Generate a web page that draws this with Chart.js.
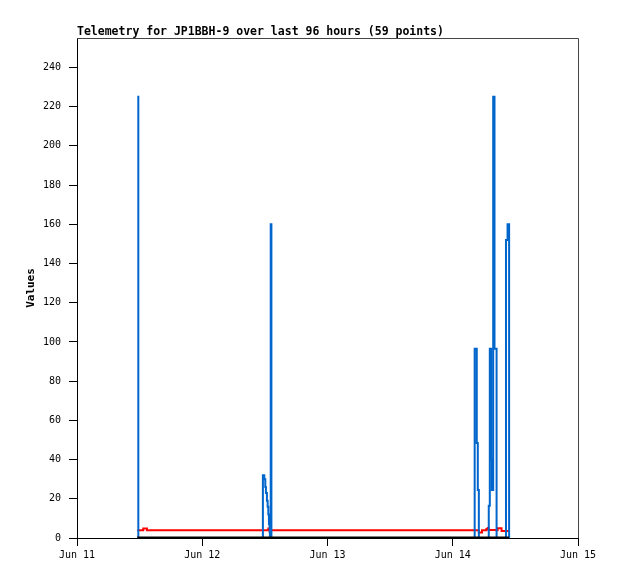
<!DOCTYPE html>
<html>
<head>
<meta charset="utf-8">
<script src="https://cdn.jsdelivr.net/npm/chart.js@4"></script>
<style>
  html, body { margin: 0; padding: 0; background: #fff; }
  canvas { display: block; }
</style>
</head>
<body>
<canvas id="telemetry" width="618" height="579"></canvas>
<script>
const chartTitle = 'Telemetry for JP1BBH-9 over last 96 hours (59 points)';
const yAxisTitle = 'Values';

// hours since Jun 11 00:00
const hours = [11.55, 11.75, 12.7, 13.4,
  35.62, 35.89, 36.08, 36.2, 36.39, 36.53, 36.66, 36.78, 36.91, 36.96, 37.12, 37.25,
  76.2, 76.6, 76.8, 77.0, 77.6, 78.45, 78.7, 78.9, 79.1, 79.35, 79.5, 79.75, 80.0, 80.4,
  80.6, 81.35, 82.2, 82.5, 82.8];
const blueValues = [225, 0, 0, 0,
  32, 30, 26, 23, 19, 16, 12, 7, 3, 0, 160, 0,
  96.5, 48.5, 24.5, 0, 0, 0, 0, 16.5, 96.5, 40, 24.5, 225, 96.5, 0,
  0, 0, 152, 160, 0];
const redValues = [4, 4, 4.8, 4,
  4, 4, 4, 4, 4, 4, 4.8, 4.8, 4.8, 4, 4, 4,
  4, 4, 4, 2.8, 4, 4.6, 5.1, 4.1, 4.1, 4.1, 4.1, 4.1, 4.1, 4,
  5, 3.6, 3.6, 3.6, 3.6];
const blackValues = hours.map(() => 0);

const xTickHours = [0, 24, 48, 72, 96];
const xTickLabels = ['Jun 11', 'Jun 12', 'Jun 13', 'Jun 14', 'Jun 15'];
const yTickValues = [0, 20, 40, 60, 80, 100, 120, 140, 160, 180, 200, 220, 240];

const monoFont = '"DejaVu Sans Mono", "Liberation Mono", monospace';

function points(values) {
  return hours.map((h, i) => ({ x: h, y: values[i] }));
}

// title text and the grey top/right frame
const framePlugin = {
  id: 'frame',
  beforeDatasetsDraw(chart) {
    const { ctx, chartArea: a } = chart;
    ctx.save();
    ctx.strokeStyle = '#444';
    ctx.lineWidth = 1;
    ctx.beginPath();
    ctx.moveTo(a.left, a.top + 0.5);
    ctx.lineTo(a.right + 0.5, a.top + 0.5);
    ctx.lineTo(a.right + 0.5, a.bottom);
    ctx.stroke();
    ctx.restore();
  },
  afterDraw(chart) {
    const { ctx, chartArea: a } = chart;
    ctx.save();
    ctx.fillStyle = '#000';
    ctx.font = 'bold 11.5px ' + monoFont;
    ctx.textBaseline = 'alphabetic';
    ctx.fillText(chartTitle, a.left, 35);
    ctx.restore();
  }
};

new Chart(document.getElementById('telemetry'), {
  type: 'line',
  data: {
    datasets: [
      { data: points(blackValues), borderColor: '#000', borderWidth: 3, pointRadius: 0, stepped: true, order: 0 },
      { data: points(blueValues), borderColor: '#0066cc', borderWidth: 2, pointRadius: 0, stepped: true, order: 1 },
      { data: points(redValues), borderColor: '#ff0000', borderWidth: 2, pointRadius: 0, stepped: true, order: 2 }
    ]
  },
  options: {
    responsive: false,
    devicePixelRatio: 1,
    animation: false,
    layout: { padding: { top: 38, right: 40, left: 0, bottom: 0 } },
    plugins: { legend: { display: false }, tooltip: { enabled: false }, title: { display: false } },
    scales: {
      x: {
        type: 'linear', min: 0, max: 96,
        afterBuildTicks: s => { s.ticks = xTickHours.map(v => ({ value: v })); },
        afterFit: s => { s.height = 41; },
        ticks: {
          callback: v => xTickLabels[xTickHours.indexOf(v)],
          font: { family: monoFont, size: 10 }, color: '#000',
          padding: 3, maxRotation: 0, autoSkip: false
        },
        grid: { drawOnChartArea: false, tickLength: 8, color: '#000' },
        border: { color: '#000', width: 1 }
      },
      y: {
        type: 'linear', min: 0, max: 255,
        afterBuildTicks: s => { s.ticks = yTickValues.map(v => ({ value: v })); },
        afterFit: s => { s.width = 77; },
        ticks: {
          font: { family: monoFont, size: 10 }, color: '#000',
          padding: 8, autoSkip: false
        },
        grid: { drawOnChartArea: false, tickLength: 8, color: '#000' },
        border: { color: '#000', width: 1 },
        title: {
          display: true, text: yAxisTitle, color: '#000',
          font: { family: monoFont, size: 11, weight: 'bold' },
          padding: { top: 25, bottom: 0 }
        }
      }
    }
  },
  plugins: [framePlugin]
});
</script>
</body>
</html>
